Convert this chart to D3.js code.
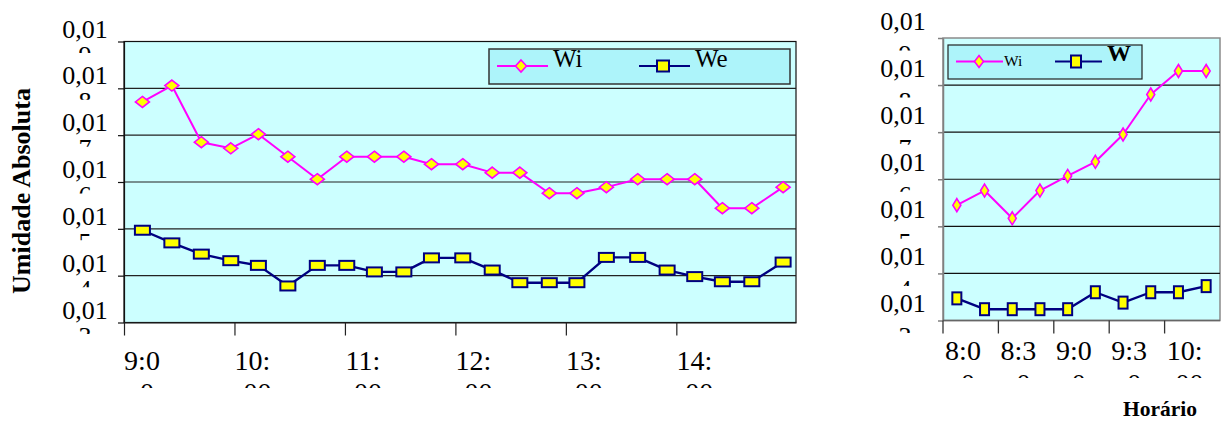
<!DOCTYPE html>
<html>
<head>
<meta charset="utf-8">
<script src="https://cdn.jsdelivr.net/npm/d3@7"></script>
<style>
  body { margin: 0; background: #fff; }
  svg { display: block; }
  svg text { font-family: "Liberation Serif", Tinos, "Times New Roman", Times, "DejaVu Serif", serif; fill: #000; }
</style>
</head>
<body>
<svg id="chart" width="1222" height="421" font-family="Liberation Serif, Tinos, Times New Roman, serif"></svg>
<script>
// ---- Data: absolute humidity, interior (Wi) and exterior (We) ----
const seriesNames = ["Wi", "We"];

// Day-long measurements (left panel)
const dayTimes = ["9:10", "9:26", "9:42", "9:58", "10:13", "10:29", "10:45", "11:01",
                  "11:16", "11:32", "11:47", "12:04", "12:20", "12:35", "12:51", "13:06",
                  "13:22", "13:39", "13:55", "14:10", "14:25", "14:41", "14:58"];
const dayWi = [0.01771, 0.01806, 0.01685, 0.01672, 0.01702, 0.01654, 0.01606, 0.01654,
               0.01654, 0.01654, 0.01638, 0.01638, 0.01620, 0.01620, 0.01576, 0.01576,
               0.01589, 0.01606, 0.01606, 0.01606, 0.01544, 0.01544, 0.01589];
const dayWe = [0.01497, 0.01470, 0.01446, 0.01432, 0.01422, 0.01378, 0.01422, 0.01422,
               0.01408, 0.01408, 0.01438, 0.01438, 0.01412, 0.01385, 0.01385, 0.01385,
               0.01439, 0.01439, 0.01412, 0.01398, 0.01387, 0.01387, 0.01429];
const dayDomain = ["9:00", "15:05"];
const dayTickLabels = ["9:00", "10:00", "11:00", "12:00", "13:00", "14:00"];

// Morning measurements (right panel)
const mornTimes = ["8:00", "8:15", "8:30", "8:45", "9:00", "9:15", "9:30", "9:45", "10:00", "10:15"];
const mornWi = [0.01545, 0.01576, 0.01517, 0.01576, 0.01607, 0.01637, 0.01695, 0.01780, 0.01830, 0.01830];
const mornWe = [0.01347, 0.01324, 0.01324, 0.01324, 0.01324, 0.01360, 0.01338, 0.01360, 0.01360, 0.01373];
const mornTickLabels = ["8:00", "8:30", "9:00", "9:30", "10:00"];

const yTicks = [0.013, 0.014, 0.015, 0.016, 0.017, 0.018, 0.019];

// ---- Helpers ----
const svg = d3.select("#chart");
const defs = svg.append("defs");
const toMin = s => { const [h, m] = s.split(":").map(Number); return h * 60 + m; };
const fmtY = v => v.toFixed(3).replace(".", ",");
let clipId = 0;

const MAGENTA = "#FF00FF", NAVY = "#000080", YELLOW = "#FFFF00";
const PLOT_BG = "#CCFFFF", LEGEND_BG = "#ADF4FA";

// Label wrapped onto two lines, with the second line cut short by its slot
function wrappedLabel(g, cx, base, first, second, lineGap, dx2, clipTop, clipBottom, size) {
  const id = "lblclip" + (clipId++);
  defs.append("clipPath").attr("id", id)
    .append("rect").attr("x", cx - 60).attr("y", clipTop)
    .attr("width", 120).attr("height", clipBottom - clipTop);
  const t = g.append("g").attr("clip-path", `url(#${id})`);
  t.append("text").attr("x", cx).attr("y", base).attr("text-anchor", "middle")
    .attr("font-size", size).text(first);
  t.append("text").attr("x", cx + dx2).attr("y", base + lineGap).attr("text-anchor", "middle")
    .attr("font-size", size).text(second);
}

const diamond = (w, h) => `M0,${-h / 2}L${w / 2},0L0,${h / 2}L${-w / 2},0Z`;

function drawSeries(g, pts, color, lineW, marker, mw, mh) {
  g.append("path").datum(pts)
    .attr("fill", "none").attr("stroke", color).attr("stroke-width", lineW)
    .attr("stroke-linejoin", "round")
    .attr("d", d3.line().x(d => d[0]).y(d => d[1]));
  if (marker === "diamond") {
    g.selectAll(null).data(pts).enter().append("path")
      .attr("transform", d => `translate(${d[0]},${d[1]})`)
      .attr("d", diamond(mw, mh))
      .attr("fill", YELLOW).attr("stroke", color).attr("stroke-width", 1.6);
  } else {
    g.selectAll(null).data(pts).enter().append("rect")
      .attr("x", d => d[0] - mw / 2).attr("y", d => d[1] - mh / 2)
      .attr("width", mw).attr("height", mh)
      .attr("fill", YELLOW).attr("stroke", color).attr("stroke-width", 2);
  }
}

// ================= Left panel: whole day =================
(function () {
  const L = 124, R = 796, T = 41.5, B = 322.5;
  const x = d3.scaleLinear().domain(dayDomain.map(toMin)).range([L, R]);
  const y = d3.scaleLinear().domain([0.013, 0.019]).range([B, T]);
  const g = svg.append("g");

  g.append("rect").attr("x", L).attr("y", T).attr("width", R - L).attr("height", B - T)
    .attr("fill", PLOT_BG).attr("stroke", "#111").attr("stroke-width", 1.2);

  // horizontal gridlines
  g.selectAll(null).data(yTicks.slice(1, -1)).enter().append("line")
    .attr("x1", L).attr("x2", R).attr("y1", d => y(d)).attr("y2", d => y(d))
    .attr("stroke", "#222").attr("stroke-width", 1.2);

  // y axis with outside ticks
  g.append("g").attr("transform", `translate(${L},0)`)
    .call(d3.axisLeft(y).tickValues(yTicks).tickSize(6).tickSizeOuter(0).tickFormat(""))
    .call(a => a.selectAll("line,path").attr("stroke", "#111").attr("stroke-width", 1.2));

  // x axis with hourly ticks
  g.append("g").attr("transform", `translate(0,${B})`)
    .call(d3.axisBottom(x).tickValues(dayTickLabels.map(toMin)).tickSize(13).tickSizeOuter(0).tickFormat(""))
    .call(a => a.selectAll("line,path").attr("stroke", "#222").attr("stroke-width", 1.2));

  // y tick labels
  yTicks.forEach(v => {
    const s = fmtY(v), py = y(v);
    wrappedLabel(g, 85, py - 4, s.slice(0, 4), s.slice(4), 26, 0, py - 30, py + 11.5, 26);
  });
  // x tick labels
  dayTickLabels.forEach(s => {
    const px = x(toMin(s)) + 18;
    wrappedLabel(g, px, 370, s.slice(0, 3), s.slice(3), 32, 5, 340, 388, 28);
  });

  const ptsWi = dayTimes.map((t, i) => [x(toMin(t)), y(dayWi[i])]);
  const ptsWe = dayTimes.map((t, i) => [x(toMin(t)), y(dayWe[i])]);
  drawSeries(g, ptsWe, NAVY, 2.4, "square", 15, 9);
  drawSeries(g, ptsWi, MAGENTA, 2, "diamond", 14, 11);

  // legend
  const lg = g.append("g");
  lg.append("rect").attr("x", 489).attr("y", 49).attr("width", 301).attr("height", 35)
    .attr("fill", LEGEND_BG).attr("stroke", "#333").attr("stroke-width", 1.5);
  lg.append("line").attr("x1", 497).attr("x2", 548).attr("y1", 66).attr("y2", 66)
    .attr("stroke", MAGENTA).attr("stroke-width", 2);
  lg.append("path").attr("transform", "translate(521,66)").attr("d", diamond(11, 12))
    .attr("fill", YELLOW).attr("stroke", MAGENTA).attr("stroke-width", 1.6);
  lg.append("text").attr("x", 553).attr("y", 67).attr("font-size", 25).text(seriesNames[0]);
  lg.append("line").attr("x1", 639).attr("x2", 690).attr("y1", 66).attr("y2", 66)
    .attr("stroke", NAVY).attr("stroke-width", 2);
  lg.append("rect").attr("x", 657).attr("y", 60.5).attr("width", 12).attr("height", 11)
    .attr("fill", YELLOW).attr("stroke", NAVY).attr("stroke-width", 2);
  lg.append("text").attr("x", 695).attr("y", 67).attr("font-size", 25).text(seriesNames[1]);

  // axis title
  g.append("text").attr("transform", "translate(30,191) rotate(-90)")
    .attr("text-anchor", "middle").attr("font-size", 26).attr("font-weight", "bold")
    .text("Umidade Absoluta");
})();

// ================= Right panel: morning =================
(function () {
  const L = 943, R = 1220, T = 38, B = 320.5;
  const x = d3.scaleBand().domain(mornTimes).range([L, R]);
  const y = d3.scaleLinear().domain([0.013, 0.019]).range([B, T]);
  const cx = t => x(t) + x.bandwidth() / 2;
  const g = svg.append("g");

  g.append("rect").attr("x", L).attr("y", T).attr("width", R - L).attr("height", B - T)
    .attr("fill", PLOT_BG).attr("stroke", "#8a8a8a").attr("stroke-width", 1.5);

  g.selectAll(null).data(yTicks.slice(1, -1)).enter().append("line")
    .attr("x1", L).attr("x2", R).attr("y1", d => y(d)).attr("y2", d => y(d))
    .attr("stroke", "#111").attr("stroke-width", 1.2);

  g.append("g").attr("transform", `translate(${L},0)`)
    .call(d3.axisLeft(y).tickValues(yTicks).tickSize(5).tickSizeOuter(0).tickFormat(""))
    .call(a => a.selectAll("line,path").attr("stroke", "#808080").attr("stroke-width", 1.5));

  // ticks on category boundaries, every second category
  const tickX = mornTickLabels.map(s => x(s));
  g.append("line").attr("x1", L).attr("x2", R).attr("y1", B).attr("y2", B)
    .attr("stroke", "#666").attr("stroke-width", 1.5);
  g.selectAll(null).data(tickX).enter().append("line")
    .attr("x1", d => d).attr("x2", d => d).attr("y1", B).attr("y2", B + 13)
    .attr("stroke", "#333").attr("stroke-width", 1.3);

  yTicks.forEach(v => {
    const s = fmtY(v), py = y(v);
    wrappedLabel(g, 903, py - 8.5, s.slice(0, 4), s.slice(4), 33, 2, py - 35, py + 12.5, 26);
  });
  mornTickLabels.forEach(s => {
    const px = x(s) + 20;
    wrappedLabel(g, px, 360, s.slice(0, 3), s.slice(3), 33, 5, 330, 378, 28);
  });

  const ptsWi = mornTimes.map((t, i) => [cx(t), y(mornWi[i])]);
  const ptsWe = mornTimes.map((t, i) => [cx(t), y(mornWe[i])]);
  drawSeries(g, ptsWe, NAVY, 2.4, "square", 9, 12);
  drawSeries(g, ptsWi, MAGENTA, 2, "diamond", 8, 13);

  // legend
  const lg = g.append("g");
  lg.append("rect").attr("x", 948).attr("y", 45).attr("width", 194).attr("height", 34)
    .attr("fill", LEGEND_BG).attr("stroke", "#222").attr("stroke-width", 1.2);
  lg.append("line").attr("x1", 956).attr("x2", 1003).attr("y1", 61.5).attr("y2", 61.5)
    .attr("stroke", MAGENTA).attr("stroke-width", 2);
  lg.append("path").attr("transform", "translate(979,61.5)").attr("d", diamond(9, 12))
    .attr("fill", YELLOW).attr("stroke", MAGENTA).attr("stroke-width", 1.6);
  lg.append("text").attr("x", 1004).attr("y", 65.5).attr("font-size", 15.5).text(seriesNames[0]);
  lg.append("line").attr("x1", 1055).attr("x2", 1102).attr("y1", 61.5).attr("y2", 61.5)
    .attr("stroke", NAVY).attr("stroke-width", 2);
  lg.append("rect").attr("x", 1071).attr("y", 55.5).attr("width", 10).attr("height", 12)
    .attr("fill", YELLOW).attr("stroke", NAVY).attr("stroke-width", 2);
  lg.append("text").attr("x", 1107).attr("y", 61).attr("font-size", 24).attr("font-weight", "bold")
    .text(seriesNames[1].slice(0, 1));

  g.append("text").attr("x", 1160).attr("y", 416).attr("text-anchor", "middle")
    .attr("font-size", 21.5).attr("font-weight", "bold").text("Horário");
})();
</script>
</body>
</html>
